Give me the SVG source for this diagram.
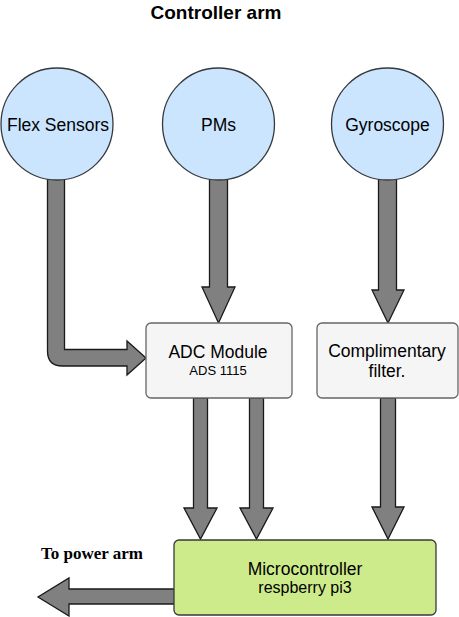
<svg xmlns="http://www.w3.org/2000/svg" width="459" height="617" viewBox="0 0 459 617">
<style>
.arrow{fill:#808080;stroke:#1a1a1a;stroke-width:1.3;stroke-linejoin:miter}
.circ{fill:#cce5ff;stroke:#36393d;stroke-width:1.3}
.box{fill:#f5f5f5;stroke:#666666;stroke-width:1.3}
.mc{fill:#cdeb8b;stroke:#36393d;stroke-width:1.3}
.t{font-family:"Liberation Sans",Arial,Helvetica,sans-serif;fill:#000;text-anchor:middle}
.big{font-size:17.5px}
</style>
<rect width="459" height="617" fill="#ffffff"/>
<g id="connectors">
  <path class="arrow" d="M47.5,175 L47.5,351 Q47.5,366 62.5,366 L127,366 L127,375 L146,358 L127,341 L127,349.5 L64.5,349.5 L64.5,175 Z"/>
  <path class="arrow" d="M209.5,175 L209.5,287 L202,287 L218.5,323 L235,287 L227.5,287 L227.5,175 Z"/>
  <path class="arrow" d="M378.5,175 L378.5,290 L372,290 L388,323 L404,290 L396.5,290 L396.5,175 Z"/>
  <path class="arrow" d="M193.5,398 L193.5,508 L184,508 L200.5,539 L217,508 L207.5,508 L207.5,398 Z"/>
  <path class="arrow" d="M249.5,398 L249.5,508 L240,508 L256.5,539 L273,508 L263.5,508 L263.5,398 Z"/>
  <path class="arrow" d="M380.5,398 L380.5,507 L372,507 L388,539 L404,507 L395.5,507 L395.5,398 Z"/>
  <path class="arrow" d="M176,589 L69,589 L69,578 L38,597 L69,616 L69,604 L176,604 Z"/>
</g>
<g id="title">
  <text class="t" x="216" y="19" font-size="19" font-weight="bold">Controller arm</text>
</g>
<g id="flex-sensors">
  <circle class="circ" cx="57" cy="124" r="56"/>
  <text class="t big" x="58" y="131">Flex Sensors</text>
</g>
<g id="pms">
  <circle class="circ" cx="218.5" cy="124" r="56"/>
  <text class="t big" x="218.5" y="131">PMs</text>
</g>
<g id="gyroscope">
  <circle class="circ" cx="387.5" cy="124" r="56"/>
  <text class="t big" x="387.5" y="131">Gyroscope</text>
</g>
<g id="adc-module">
  <rect class="box" x="146" y="323" width="146" height="75" rx="5"/>
  <text class="t big" x="218" y="358">ADC Module</text>
  <text class="t" x="218" y="375" font-size="13">ADS 1115</text>
</g>
<g id="complimentary-filter">
  <rect class="box" x="317" y="323" width="141" height="75" rx="5"/>
  <text class="t big" x="387" y="357">Complimentary</text>
  <text class="t big" x="387" y="377">filter.</text>
</g>
<g id="microcontroller">
  <rect class="mc" x="174" y="540" width="262" height="75" rx="5"/>
  <text class="t big" x="305" y="575">Microcontroller</text>
  <text class="t" x="305" y="593" font-size="16">respberry pi3</text>
</g>
<g id="to-power-arm">
  <text x="41" y="559" font-family="'Liberation Serif','Times New Roman',serif" font-weight="bold" font-size="17">To power arm</text>
</g>
</svg>
